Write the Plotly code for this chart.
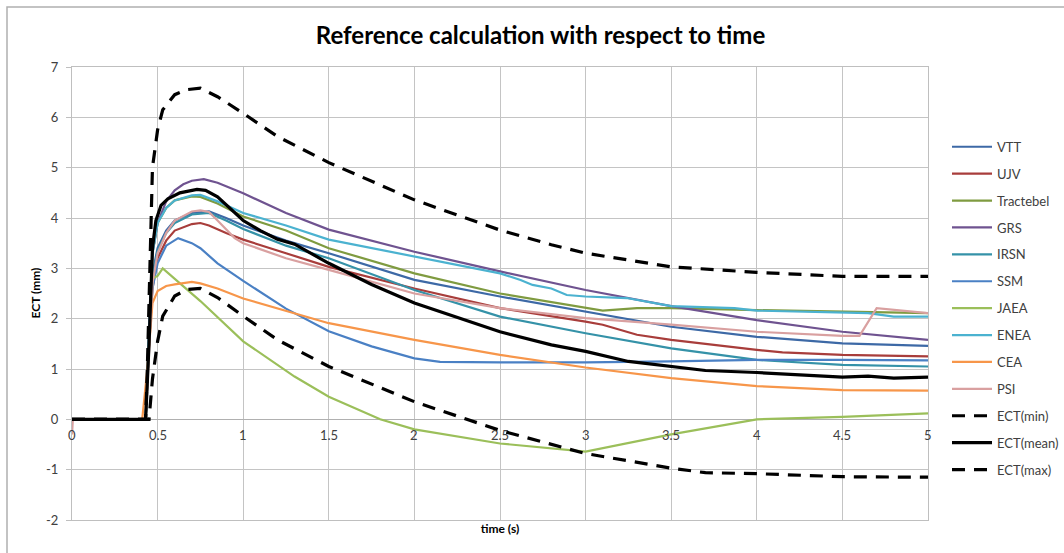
import plotly.graph_objects as go

# ---------------- data ----------------
x_ticks = [0, 0.5, 1, 1.5, 2, 2.5, 3, 3.5, 4, 4.5, 5]
x_tick_labels = ["0", "0.5", "1", "1.5", "2", "2.5", "3", "3.5", "4", "4.5", "5"]
y_ticks = [-2, -1, 0, 1, 2, 3, 4, 5, 6, 7]
y_tick_labels = ["-2", "-1", "0", "1", "2", "3", "4", "5", "6", "7"]

vtt_t = [0, 0.43, 0.45, 0.47, 0.5, 0.55, 0.6, 0.7, 0.8, 0.9, 1.0, 1.25, 1.5, 2.0, 2.5, 3.0, 3.5, 4.0, 4.5, 5.0]
vtt_v = [0, 0, 1.5, 2.9, 3.4, 3.75, 3.95, 4.1, 4.13, 4.0, 3.85, 3.55, 3.3, 2.77, 2.44, 2.14, 1.84, 1.64, 1.51, 1.46]

ujv_t = [0, 0.43, 0.45, 0.47, 0.5, 0.55, 0.6, 0.7, 0.75, 0.8, 0.9, 1.0, 1.25, 1.5, 2.0, 2.5, 3.0, 3.1, 3.3, 3.5, 4.0, 4.15, 4.5, 5.0]
ujv_v = [0, 0, 1.5, 2.6, 3.2, 3.55, 3.75, 3.88, 3.9, 3.85, 3.7, 3.57, 3.3, 3.03, 2.6, 2.21, 1.94, 1.88, 1.68, 1.58, 1.38, 1.33, 1.28, 1.25]

tractebel_t = [0, 0.43, 0.45, 0.47, 0.5, 0.55, 0.6, 0.7, 0.75, 0.85, 1.0, 1.25, 1.5, 2.0, 2.5, 3.0, 3.1, 3.3, 3.5, 4.0, 4.5, 5.0]
tractebel_v = [0, 0, 1.8, 3.3, 3.9, 4.2, 4.35, 4.43, 4.42, 4.29, 4.03, 3.75, 3.4, 2.9, 2.5, 2.21, 2.16, 2.21, 2.21, 2.17, 2.14, 2.11]

grs_t = [0, 0.43, 0.45, 0.47, 0.5, 0.55, 0.6, 0.65, 0.7, 0.77, 0.85, 1.0, 1.25, 1.5, 2.0, 2.5, 3.0, 3.5, 4.0, 4.5, 5.0]
grs_v = [0, 0, 1.8, 3.3, 3.9, 4.33, 4.55, 4.67, 4.74, 4.77, 4.7, 4.49, 4.1, 3.77, 3.33, 2.94, 2.57, 2.25, 1.97, 1.74, 1.58]

irsn_t = [0, 0.43, 0.45, 0.47, 0.5, 0.55, 0.6, 0.7, 0.8, 0.9, 1.0, 1.25, 1.5, 2.0, 2.5, 3.0, 3.5, 4.0, 4.5, 5.0]
irsn_v = [0, 0, 1.5, 2.8, 3.35, 3.7, 3.9, 4.07, 4.1, 3.95, 3.78, 3.45, 3.2, 2.57, 2.04, 1.71, 1.41, 1.18, 1.08, 1.05]

ssm_t = [0, 0.43, 0.45, 0.47, 0.5, 0.55, 0.62, 0.7, 0.75, 0.85, 1.0, 1.25, 1.5, 1.75, 2.0, 2.15, 2.5, 3.0, 3.5, 4.0, 4.5, 5.0]
ssm_v = [0, 0, 1.5, 2.6, 3.1, 3.45, 3.6, 3.5, 3.4, 3.1, 2.75, 2.2, 1.75, 1.45, 1.21, 1.14, 1.13, 1.13, 1.15, 1.18, 1.18, 1.17]

jaea_t = [0, 0.43, 0.45, 0.47, 0.5, 0.53, 0.75, 1.0, 1.3, 1.5, 1.8, 2.0, 2.5, 3.0, 3.5, 4.0, 4.5, 5.0]
jaea_v = [0, 0, 1.5, 2.8, 2.85, 3.0, 2.35, 1.55, 0.85, 0.45, 0.0, -0.2, -0.48, -0.64, -0.3, 0.0, 0.05, 0.12]

enea_t = [0, 0.43, 0.45, 0.47, 0.5, 0.55, 0.6, 0.7, 0.75, 0.85, 1.0, 1.25, 1.5, 2.0, 2.5, 2.62, 2.69, 2.8, 2.89, 3.0, 3.24, 3.5, 3.87, 4.0, 4.65, 4.8, 5.0]
enea_v = [0, 0, 1.8, 3.3, 3.9, 4.2, 4.35, 4.45, 4.46, 4.33, 4.1, 3.85, 3.57, 3.23, 2.9, 2.77, 2.67, 2.6, 2.47, 2.44, 2.41, 2.25, 2.21, 2.16, 2.11, 2.04, 2.04]

cea_t = [0, 0.41, 0.44, 0.47, 0.5, 0.55, 0.6, 0.7, 0.75, 0.85, 1.0, 1.25, 1.5, 2.0, 2.5, 3.0, 3.5, 4.0, 4.5, 5.0]
cea_v = [0, 0, 1.0, 2.31, 2.55, 2.65, 2.68, 2.73, 2.7, 2.6, 2.4, 2.15, 1.91, 1.58, 1.28, 1.03, 0.82, 0.66, 0.58, 0.57]

psi_t = [0, 0.005, 0.43, 0.45, 0.47, 0.5, 0.55, 0.6, 0.7, 0.75, 0.8, 0.85, 0.95, 1.0, 1.25, 1.5, 2.0, 2.5, 3.0, 3.5, 4.0, 4.5, 4.6, 4.7, 5.0]
psi_v = [-0.3, 0, 0, 1.5, 2.7, 3.3, 3.7, 3.95, 4.13, 4.15, 4.12, 3.95, 3.6, 3.5, 3.2, 2.97, 2.5, 2.21, 2.01, 1.88, 1.74, 1.66, 1.66, 2.21, 2.11]

ect_min_t = [0, 0.45, 0.47, 0.5, 0.53, 0.6, 0.67, 0.75, 0.85, 1.0, 1.2, 1.5, 2.0, 2.5, 3.0, 3.5, 3.7, 4.0, 4.5, 5.0]
ect_min_v = [0, 0, 0.8, 1.55, 2.05, 2.45, 2.58, 2.6, 2.42, 2.05, 1.58, 1.05, 0.35, -0.22, -0.68, -0.97, -1.06, -1.08, -1.14, -1.15]

ect_mean_t = [0, 0.43, 0.45, 0.46, 0.47, 0.49, 0.52, 0.56, 0.63, 0.73, 0.78, 0.85, 1.0, 1.1, 1.2, 1.3, 1.5, 1.75, 2.0, 2.3, 2.5, 2.8, 3.0, 3.25, 3.5, 3.7, 4.0, 4.25, 4.5, 4.65, 4.8, 5.0]
ect_mean_v = [0, 0, 1.5, 2.7, 3.4, 3.95, 4.25, 4.38, 4.5, 4.57, 4.55, 4.42, 3.95, 3.75, 3.58, 3.48, 3.1, 2.68, 2.31, 1.97, 1.74, 1.48, 1.35, 1.15, 1.05, 0.97, 0.93, 0.88, 0.84, 0.86, 0.82, 0.84]

ect_max_t = [0, 0.43, 0.44, 0.45, 0.46, 0.47, 0.5, 0.53, 0.6, 0.67, 0.75, 0.85, 1.0, 1.2, 1.5, 2.0, 2.5, 2.8, 3.0, 3.5, 4.0, 4.5, 5.0]
ect_max_v = [0, 0, 1.0, 2.5, 4.0, 5.0, 5.75, 6.15, 6.45, 6.55, 6.58, 6.41, 6.08, 5.62, 5.1, 4.36, 3.76, 3.47, 3.3, 3.03, 2.92, 2.84, 2.84]

series = [
    ("VTT", vtt_t, vtt_v, "#3d69a6", 2.2, "solid"),
    ("UJV", ujv_t, ujv_v, "#a83d3b", 2.2, "solid"),
    ("Tractebel", tractebel_t, tractebel_v, "#7f9b40", 2.2, "solid"),
    ("GRS", grs_t, grs_v, "#6f5390", 2.2, "solid"),
    ("IRSN", irsn_t, irsn_v, "#3592a8", 2.2, "solid"),
    ("SSM", ssm_t, ssm_v, "#4a80c4", 2.2, "solid"),
    ("JAEA", jaea_t, jaea_v, "#9bbf5a", 2.2, "solid"),
    ("ENEA", enea_t, enea_v, "#4bb2d0", 2.2, "solid"),
    ("CEA", cea_t, cea_v, "#f7964a", 2.2, "solid"),
    ("PSI", psi_t, psi_v, "#d9a0a0", 2.2, "solid"),
    ("ECT(min)", ect_min_t, ect_min_v, "#000000", 3.2, "13px,9px"),
    ("ECT(mean)", ect_mean_t, ect_mean_v, "#000000", 3.2, "solid"),
    ("ECT(max)", ect_max_t, ect_max_v, "#000000", 3.2, "13px,9px"),
]

fig = go.Figure()
for i, (name, t, v, color, w, dash) in enumerate(series):
    fig.add_trace(go.Scatter(
        x=t, y=v, name=name, mode="lines", legendgroup=f"g{i}",
        line=dict(color=color, width=w, dash=dash),
    ))

font_family = "Lato, 'Open Sans', sans-serif"
grid_col = "#c4c4c4"

fig.update_layout(
    width=1064, height=553,
    margin=dict(l=72, r=136, t=67, b=33, autoexpand=False),
    paper_bgcolor="white", plot_bgcolor="white",
    font=dict(family=font_family, size=13, color="#404040"),
    title=dict(text="<b>Reference calculation with respect to time</b>",
               x=0.508, xanchor="center", y=0.935, yanchor="middle",
               font=dict(family=font_family, size=24, color="#000000")),
    showlegend=True,
    legend=dict(x=1.0222, xanchor="left", y=0.857, yanchor="top",
                font=dict(family=font_family, size=13, color="#404040"),
                tracegroupgap=7, itemwidth=40, bgcolor="rgba(0,0,0,0)"),
    xaxis=dict(range=[0, 5], tickvals=x_ticks, showticklabels=False,
               showgrid=True, gridcolor=grid_col, gridwidth=1,
               showline=True, linecolor="#bfbfbf", mirror=True, zeroline=False,
               ticks="",
               title=dict(text="<b>time (s)</b>", standoff=4,
                          font=dict(family=font_family, size=12, color="#000000"))),
    yaxis=dict(range=[-2, 7], tickvals=y_ticks, ticktext=y_tick_labels,
               showgrid=True, gridcolor=grid_col,
               gridwidth=1, showline=True, linecolor="#bfbfbf", mirror=True,
               zeroline=True, zerolinecolor="#b0b0b0", zerolinewidth=1,
               ticks="outside", ticklen=5, tickcolor="#bfbfbf",
               ticklabelstandoff=5,
               tickfont=dict(family=font_family, size=13, color="#404040")),
)

# y axis title placed where the reference has it
fig.add_annotation(x=(35 - 72) / 856, y=0.5, xref="paper", yref="paper",
                   text="<b>ECT (mm)</b>", textangle=-90, showarrow=False,
                   xanchor="center", yanchor="middle",
                   font=dict(family=font_family, size=12, color="#000000"))

# x tick labels sit just below the y = 0 line, as in the reference
for tv, tl in zip(x_ticks, x_tick_labels):
    fig.add_annotation(x=tv, y=0, xref="x", yref="y", text=tl, showarrow=False,
                       yanchor="top", yshift=-6,
                       font=dict(family=font_family, size=13, color="#404040"))

# outer chart frame
fig.add_shape(type="rect", xref="paper", yref="paper",
              x0=(7 - 72) / 856, x1=(1070 - 72) / 856,
              y0=(520 - 560) / 453, y1=(520 - 7) / 453,
              line=dict(color="#b0b0b0", width=1.5), layer="below")

fig.write_html("out.html")
